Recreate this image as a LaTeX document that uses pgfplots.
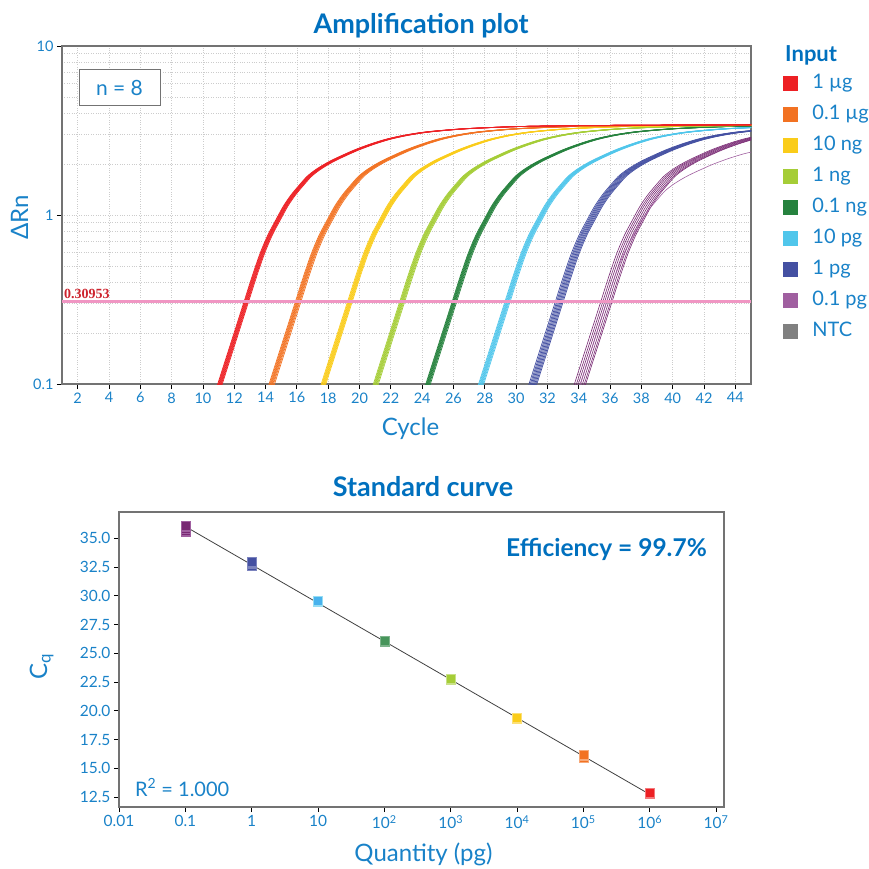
\documentclass[border=0pt]{standalone}
\usepackage{fontspec}
\setmainfont{Lato}
\newfontfamily\thrfont{Liberation Serif}
\usepackage{pgfplots}
\pgfplotsset{compat=1.18}
\usepackage{pgfplotstable}

\definecolor{cblue}{RGB}{25,130,200}
\definecolor{ctitle}{RGB}{0,112,190}
\definecolor{cframe}{RGB}{115,115,115}
\definecolor{cred}{RGB}{237,32,36}
\definecolor{corange}{RGB}{242,114,34}
\definecolor{cyellow}{RGB}{250,204,26}
\definecolor{clgreen}{RGB}{165,205,55}
\definecolor{cdgreen}{RGB}{38,130,62}
\definecolor{clblue}{RGB}{80,198,235}
\definecolor{cdblue}{RGB}{68,80,162}
\definecolor{cpurple}{RGB}{160,95,160}
\definecolor{cpline}{RGB}{120,40,115}
\definecolor{cntc}{RGB}{128,128,128}
\definecolor{cthr}{RGB}{240,150,195}
\definecolor{cthrtxt}{RGB}{205,35,45}

% shape of one amplification curve
% d = cycle - Ct (threshold crossing)
\pgfplotstableread{
d     drn
-3    0.042
-2    0.0815
-1.5  0.114
-1    0.159
-0.5  0.222
0     0.310
0.5   0.433
1     0.59
1.5   0.76
2     0.93
2.5   1.13
3     1.32
3.5   1.50
4     1.69
4.5   1.84
5     1.97
5.5   2.09
6     2.20
7     2.42
8     2.62
9     2.80
10    2.94
11    3.05
12    3.13
14    3.24
17    3.33
20    3.37
25    3.40
34    3.42
}\ampshape

% Cq values of the standard curve replicates
\pgfplotstableread{
q cq
0.1 35.55
0.1 35.70
0.1 35.85
0.1 36.00
0.1 36.10
}\stdA
\pgfplotstableread{
q cq
1 32.65
1 32.75
1 32.85
1 33.00
}\stdB
\pgfplotstableread{
q cq
10 29.45
10 29.55
}\stdC
\pgfplotstableread{
q cq
100 26.00
100 26.10
}\stdD
\pgfplotstableread{
q cq
1000 22.70
1000 22.76
}\stdE
\pgfplotstableread{
q cq
10000 19.30
10000 19.42
}\stdF
\pgfplotstableread{
q cq
100000 15.95
100000 16.05
100000 16.20
}\stdG
\pgfplotstableread{
q cq
1000000 12.75
1000000 12.85
}\stdH

\newcommand{\ampgroup}[3]{\pgfplotsinvokeforeach{#3}{%
  \addplot[#1, line width=#2, smooth, forget plot] table[x expr=\thisrow{d}+##1, y=drn]{\ampshape};}}
\pgfplotsset{sqleg/.style={legend image code/.code={\fill[#1] (0pt,-7pt) rectangle (14pt,7pt);}}}

\begin{document}
\begin{tikzpicture}
\path[use as bounding box] (0pt,0pt) rectangle (869pt,-868pt);

\begin{axis}[
  at={(62pt,-384pt)}, anchor=south west,
  scale only axis, width=689pt, height=338pt,
  xmin=1, xmax=45, ymode=log, ymin=0.1, ymax=10,
  xtick={2,4,...,44},
  ytick={0.1,1,10}, yticklabels={0.1,1,10},
  minor ytick={0.2,0.3,0.4,0.5,0.6,0.7,0.8,0.9,2,3,4,5,6,7,8,9},
  xmajorgrids, ymajorgrids, yminorgrids,
  grid style={dotted, gray!40, line width=0.7pt},
  minor tick length=0pt, major tick length=5pt,
  tick align=outside, tick pos=left,
  tick style={black, line width=0.8pt},
  axis line style={cframe, line width=1.4pt},
  tick label style={font=\fontsize{14.5}{15}\selectfont, text=cblue},
  /pgf/number format/assume math mode=true,
  legend style={at={(1.0465,0.9201)}, anchor=north west, draw=none, fill=none,
    inner sep=0pt, outer sep=0pt, row sep=11pt, column sep=15pt,
    font=\fontsize{20}{20}\selectfont, text=cblue,
    nodes={inner sep=0pt, anchor=west, text height=15pt, text depth=5pt}},
  legend cell align=left,
]
\ampgroup{cpline}{0.6pt}{35.42,35.55,35.67,35.80,35.93,36.05,36.14}
\addplot[cpurple, line width=0.6pt, smooth, forget plot] table[x expr=\thisrow{d}+35.50, y expr=\thisrow{drn}*0.82]{\ampshape};
\ampgroup{cdblue}{0.7pt}{32.52,32.60,32.67,32.74,32.81,32.88,32.95,33.02}
\ampgroup{clblue}{0.7pt}{29.30,29.35,29.40,29.44,29.48,29.52,29.57,29.63}
\ampgroup{cdgreen}{0.7pt}{25.93,25.97,26.01,26.04,26.08,26.12,26.16,26.22}
\ampgroup{clgreen}{0.7pt}{22.58,22.63,22.67,22.71,22.75,22.79,22.84,22.90}
\ampgroup{cyellow}{0.7pt}{19.25,19.30,19.34,19.38,19.42,19.46,19.50,19.55}
\ampgroup{corange}{0.7pt}{15.92,15.97,16.02,16.06,16.10,16.15,16.20,16.27}
\ampgroup{cred}{0.7pt}{12.64,12.68,12.72,12.76,12.80,12.84,12.88,12.93}
\addplot[cthr, line width=3pt, forget plot] coordinates {(1,0.30953) (45,0.30953)};

\addlegendimage{sqleg=cred}\addlegendentry{1 µg}
\addlegendimage{sqleg=corange}\addlegendentry{0.1 µg}
\addlegendimage{sqleg=cyellow}\addlegendentry{10 ng}
\addlegendimage{sqleg=clgreen}\addlegendentry{1 ng}
\addlegendimage{sqleg=cdgreen}\addlegendentry{0.1 ng}
\addlegendimage{sqleg=clblue}\addlegendentry{10 pg}
\addlegendimage{sqleg=cdblue}\addlegendentry{1 pg}
\addlegendimage{sqleg=cpurple}\addlegendentry{0.1 pg}
\addlegendimage{sqleg=cntc}\addlegendentry{NTC}
\end{axis}

\begin{axis}[
  at={(119pt,-807pt)}, anchor=south west,
  scale only axis, width=605pt, height=295pt,
  xmode=log, xmin=0.01, xmax=1.318e7, ymin=11.63, ymax=37.29,
  xtick={0.01,0.1,1,10,100,1000,10000,100000,1000000,10000000},
  xticklabels={0.01,0.1,1,10,10\textsuperscript{2},10\textsuperscript{3},10\textsuperscript{4},10\textsuperscript{5},10\textsuperscript{6},10\textsuperscript{7}},
  ytick={12.5,15,...,35},
  yticklabel style={/pgf/number format/.cd, fixed, fixed zerofill, precision=1},
  /pgf/number format/assume math mode=true,
  minor tick length=0pt, major tick length=5pt,
  tick align=outside, tick pos=left,
  tick style={black, line width=0.8pt},
  axis line style={cframe, line width=1.4pt},
  tick label style={font=\fontsize{15.5}{16}\selectfont, text=cblue},
]
\addplot[black!75, line width=0.8pt] coordinates {(0.1,36.03) (1000000,12.73)};
\addplot[only marks, mark=square*, mark size=4.5pt, mark options={fill=cpline, draw=cpurple, line width=0.5pt}] table[x=q, y=cq]{\stdA};
\addplot[only marks, mark=square*, mark size=4.5pt, mark options={fill=cdblue, draw=cdblue!70!white, line width=0.5pt}] table[x=q, y=cq]{\stdB};
\addplot[only marks, mark=square*, mark size=4.5pt, mark options={fill=clblue!90!blue, draw=clblue!60!white, line width=0.5pt}] table[x=q, y=cq]{\stdC};
\addplot[only marks, mark=square*, mark size=4.5pt, mark options={fill=cdgreen!85!white, draw=cdgreen!60!white, line width=0.5pt}] table[x=q, y=cq]{\stdD};
\addplot[only marks, mark=square*, mark size=4.5pt, mark options={fill=clgreen, draw=clgreen!60!white, line width=0.5pt}] table[x=q, y=cq]{\stdE};
\addplot[only marks, mark=square*, mark size=4.5pt, mark options={fill=cyellow, draw=cyellow!60!white, line width=0.5pt}] table[x=q, y=cq]{\stdF};
\addplot[only marks, mark=square*, mark size=4.5pt, mark options={fill=corange, draw=corange!60!white, line width=0.5pt}] table[x=q, y=cq]{\stdG};
\addplot[only marks, mark=square*, mark size=4.5pt, mark options={fill=cred, draw=cred!60!white, line width=0.5pt}] table[x=q, y=cq]{\stdH};
\end{axis}

% titles, labels and annotations
\node[anchor=base, text=ctitle, font=\fontsize{27}{28}\selectfont\bfseries] at (421pt,-33pt) {Amplification plot};
\node[anchor=base, text=ctitle, font=\fontsize{27}{28}\selectfont\bfseries] at (423pt,-496pt) {Standard curve};
\node[anchor=base, text=cblue, font=\fontsize{24}{25}\selectfont] at (410.5pt,-435pt) {Cycle};
\node[anchor=base, text=cblue, font=\fontsize{24}{25}\selectfont] at (423.5pt,-861pt) {Quantity (pg)};
\node[anchor=base, rotate=90, text=cblue, font=\fontsize{24}{25}\selectfont] at (28pt,-217pt) {ΔRn};
\node[anchor=base, rotate=90, text=cblue, font=\fontsize{24}{25}\selectfont] at (47pt,-667pt) {C\textsubscript{q}};
\node[anchor=base west, text=ctitle, font=\fontsize{22}{23}\selectfont\bfseries, inner sep=0pt] at (785pt,-61pt) {Input};
\draw[cframe, line width=0.9pt, fill=white] (79pt,-69pt) rectangle (160pt,-105.7pt);
\node[anchor=base, text=cblue, font=\fontsize{21}{22}\selectfont] at (119.5pt,-95pt) {n = 8};
\node[anchor=base west, inner sep=0pt, text=cthrtxt, font=\thrfont\fontsize{14}{14}\selectfont\bfseries] at (64pt,-298pt) {0.30953};
\node[anchor=base east, inner sep=0pt, text=ctitle, font=\fontsize{24.5}{25}\selectfont\bfseries] at (707pt,-556pt) {Efficiency = 99.7\%};
\node[anchor=base west, inner sep=0pt, text=cblue, font=\fontsize{20}{21}\selectfont] at (135pt,-796pt) {R\textsuperscript{2} = 1.000};
\end{tikzpicture}
\end{document}
